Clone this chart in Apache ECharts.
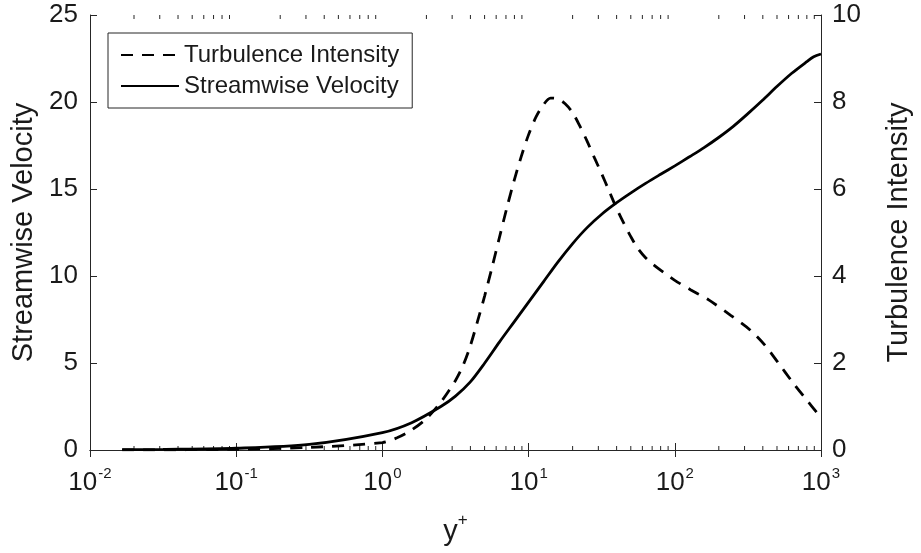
<!DOCTYPE html>
<html><head><meta charset="utf-8">
<script src="https://cdn.jsdelivr.net/npm/echarts@6/dist/echarts.min.js"></script>
<style>html,body{margin:0;padding:0;background:#fff;overflow:hidden}#c{position:absolute;left:0;top:0;width:921px;height:553px}</style>
</head><body><div id="c"></div>
<script>
// Streamwise velocity (left axis)
const velX = [0.0166, 0.0316, 0.1, 0.316, 1.0, 1.585, 2.512, 3.162, 3.981, 5.012, 6.31, 7.943, 10, 12.59, 15.85, 19.95, 25.12, 31.62, 39.81, 50.12, 63.1, 79.43, 100, 125.9, 158.5, 199.5, 251.2, 316.2, 398.1, 501.2, 631, 794.3, 891.3, 1000];
const velY = [0.017, 0.032, 0.1, 0.32, 1.0, 1.57, 2.5, 3.1, 3.9, 5.0, 6.2, 7.35, 8.5, 9.65, 10.8, 11.85, 12.78, 13.55, 14.2, 14.78, 15.32, 15.83, 16.33, 16.85, 17.38, 17.96, 18.6, 19.33, 20.1, 20.9, 21.65, 22.3, 22.6, 22.76];
// Turbulence intensity (right axis)
const turbX = [0.0166, 0.1, 0.316, 1.0, 1.259, 1.585, 1.995, 2.512, 3.162, 3.548, 3.981, 4.467, 5.012, 5.623, 6.31, 7.079, 7.943, 8.913, 10, 11.22, 12.59, 14.13, 15.85, 17.78, 19.95, 22.39, 25.12, 28.18, 31.62, 35.48, 39.81, 44.67, 50.12, 56.23, 63.1, 70.79, 79.43, 89.13, 100, 128.8, 170.6, 239.9, 327.3, 413.0, 505.8, 638.3, 767.4, 970.5, 1000];
const turbY = [0.002, 0.015, 0.06, 0.17, 0.28, 0.46, 0.72, 1.1, 1.6, 1.93, 2.38, 2.95, 3.55, 4.2, 4.88, 5.55, 6.18, 6.75, 7.25, 7.65, 7.93, 8.09, 8.07, 7.96, 7.76, 7.45, 7.1, 6.72, 6.35, 5.96, 5.57, 5.22, 4.9, 4.62, 4.42, 4.27, 4.14, 4.02, 3.9, 3.68, 3.45, 3.1, 2.76, 2.41, 2.02, 1.56, 1.22, 0.8, 0.76];
// axis settings
const xMin = 0.01, xMax = 1000;
const leftMax = 25, leftStep = 5;
const rightMax = 10, rightStep = 2;
const minorMant = [2, 3, 4, 5, 6, 7, 8, 9];
const decades = [0.01, 0.1, 1, 10, 100];
const seriesNames = ['Turbulence Intensity', 'Streamwise Velocity'];
const xTitle = 'y';
const leftTitle = 'Streamwise Velocity';
const rightTitle = 'Turbulence Intensity';

const minorTicks = [];
decades.forEach(d => minorMant.forEach(m => minorTicks.push([m * d])));

const FONT = '"Liberation Sans", Arial, Helvetica, sans-serif';
const AX = '#262626';
const TXT = '#1a1a1a';

const chart = echarts.init(document.getElementById('c'), null, {renderer: 'canvas', width: 921, height: 553});
const logLabel = {
  margin: 16,
  formatter: v => '{b|10}{s|' + Math.round(Math.log10(v)) + '}',
  rich: {
    b: {fontSize: 26, fontFamily: FONT, color: TXT, lineHeight: 30, verticalAlign: 'bottom'},
    s: {fontSize: 15, fontFamily: FONT, color: TXT, lineHeight: 30, verticalAlign: 'top', padding: [0, 0, 0, 1]}
  }
};
chart.setOption({
  animation: false,
  backgroundColor: '#fff',
  grid: {left: 90, right: 89, top: 15, bottom: 103, containLabel: false},
  legend: {
    data: seriesNames,
    orient: 'vertical',
    left: 108, top: 33,
    itemWidth: 58, itemHeight: 14, itemGap: 3,
    padding: [8, 13, 8, 12],
    borderColor: AX, borderWidth: 1,
    backgroundColor: '#fff',
    itemStyle: {opacity: 0},
    textStyle: {fontSize: 24, fontFamily: FONT, color: TXT, lineHeight: 28}
  },
  xAxis: [
    {
      type: 'log', logBase: 10, min: xMin, max: xMax, position: 'bottom',
      name: '{y|' + xTitle + '}{p|+}', nameLocation: 'middle', nameGap: 62,
      nameTextStyle: {rich: {
        y: {fontSize: 29, fontFamily: FONT, color: TXT, lineHeight: 34, verticalAlign: 'bottom'},
        p: {fontSize: 17, fontFamily: FONT, color: TXT, lineHeight: 34, verticalAlign: 'top'}
      }},
      axisLine: {show: true, lineStyle: {color: AX, width: 1}},
      axisTick: {show: true, inside: true, length: 7, lineStyle: {color: AX}},
      axisLabel: logLabel,
      splitLine: {show: false}
    },
    {
      type: 'log', logBase: 10, min: xMin, max: xMax, position: 'top',
      axisLine: {show: true, lineStyle: {color: AX, width: 1}},
      axisTick: {show: true, inside: true, length: 7, lineStyle: {color: AX}},
      axisLabel: {show: false},
      splitLine: {show: false}
    }
  ],
  yAxis: [
    {
      type: 'value', min: 0, max: leftMax, interval: leftStep, position: 'left',
      name: leftTitle, nameLocation: 'middle', nameGap: 52,
      nameTextStyle: {fontSize: 29, fontFamily: FONT, color: TXT},
      axisLine: {show: true, lineStyle: {color: AX, width: 1}},
      axisTick: {show: true, inside: true, length: 7, lineStyle: {color: AX}},
      axisLabel: {fontSize: 26, fontFamily: FONT, color: TXT, margin: 12},
      splitLine: {show: false}
    },
    {
      type: 'value', min: 0, max: rightMax, interval: rightStep, position: 'right',
      name: rightTitle, nameLocation: 'middle', nameGap: 63,
      nameTextStyle: {fontSize: 29, fontFamily: FONT, color: TXT},
      axisLine: {show: true, lineStyle: {color: AX, width: 1}},
      axisTick: {show: true, inside: true, length: 7, lineStyle: {color: AX}},
      axisLabel: {fontSize: 26, fontFamily: FONT, color: TXT, margin: 11},
      splitLine: {show: false}
    }
  ],
  series: [
    {
      name: seriesNames[0], type: 'line', xAxisIndex: 0, yAxisIndex: 1,
      data: turbX.map((x, i) => [x, turbY[i]]),
      symbol: 'none', smooth: 0.3,
      lineStyle: {color: '#000', width: 2.8, type: [12, 9]},
      itemStyle: {color: '#000'}, z: 3
    },
    {
      name: seriesNames[1], type: 'line', xAxisIndex: 0, yAxisIndex: 0,
      data: velX.map((x, i) => [x, velY[i]]),
      symbol: 'none', smooth: 0.3,
      lineStyle: {color: '#000', width: 2.8},
      itemStyle: {color: '#000'}, z: 3
    },
    {
      type: 'custom', xAxisIndex: 0, yAxisIndex: 0, silent: true, z: 1,
      data: minorTicks, encode: {x: 0},
      renderItem: (params, api) => {
        const x = api.value(0);
        const b = api.coord([x, 0]);
        const t = api.coord([x, leftMax]);
        return {type: 'group', children: [
          {type: 'line', shape: {x1: b[0], y1: b[1], x2: b[0], y2: b[1] - 4}, style: {stroke: AX, lineWidth: 1}},
          {type: 'line', shape: {x1: t[0], y1: t[1], x2: t[0], y2: t[1] + 4}, style: {stroke: AX, lineWidth: 1}}
        ]};
      }
    }
  ]
});
</script></body></html>
